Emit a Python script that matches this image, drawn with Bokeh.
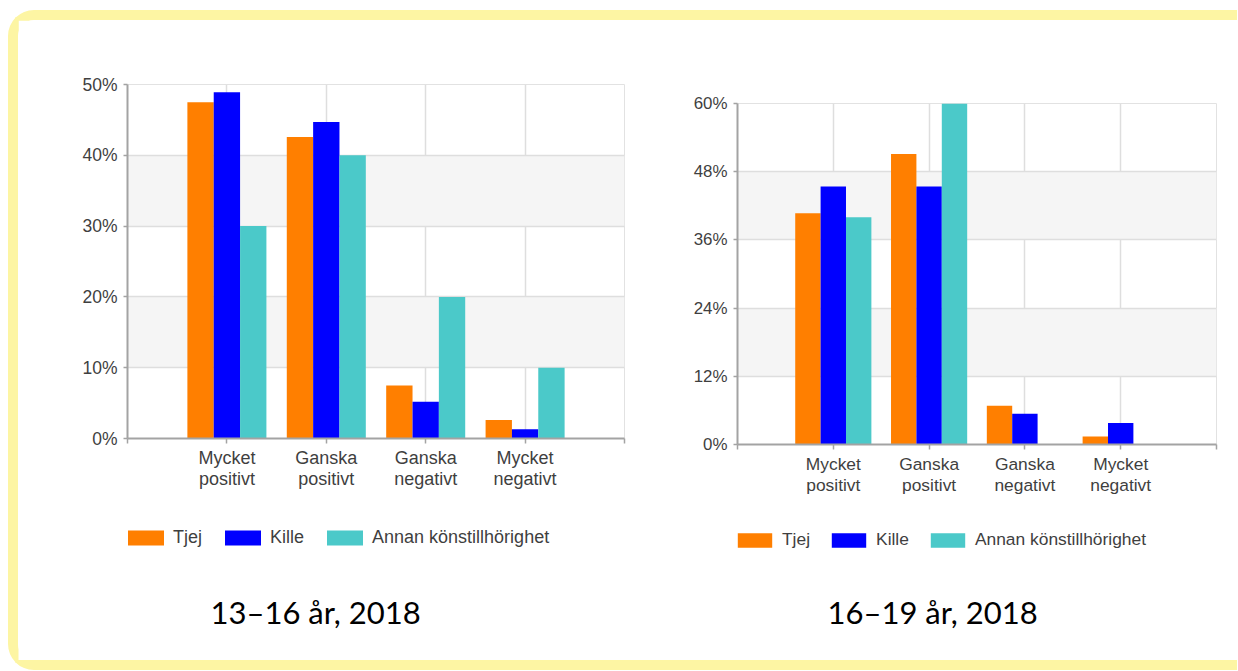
from bokeh.plotting import figure
from bokeh.models import (ColumnDataSource, FixedTicker, PrintfTickFormatter, Legend,
                          LegendItem, Label, Range1d, Row, Column)
from bokeh.embed import file_html
from bokeh.resources import INLINE

# ---------------- data ----------------
categories = ["Mycket\npositivt", "Ganska\npositivt", "Ganska\nnegativt", "Mycket\nnegativt"]
series_names = ["Tjej", "Kille", "Annan könstillhörighet"]
series_colors = ["#FF7F00", "#0000FF", "#4BC9C9"]

# 13–16 år, 2018 (percent)
tjej_13_16 = [47.5, 42.6, 7.5, 2.6]
kille_13_16 = [48.9, 44.7, 5.2, 1.3]
annan_13_16 = [30.0, 40.0, 20.0, 10.0]
yticks_13_16 = [0, 10, 20, 30, 40, 50]

# 16–19 år, 2018 (percent)
tjej_16_19 = [40.7, 51.1, 6.8, 1.4]
kille_16_19 = [45.4, 45.4, 5.4, 3.8]
annan_16_19 = [40.0, 60.0, 0.0, 0.0]
yticks_16_19 = [0, 12, 24, 36, 48, 60]

title_13_16 = "13–16 år, 2018"
title_16_19 = "16–19 år, 2018"

FONT = "Liberation Sans"
TEXT = "#3f3f3f"
BAR_W = 0.265
FOOT_H = 160


def make_chart(series_values, yticks, frame_w, frame_h, mb_left, mb_right,
               mb_top, mb_bottom, fs):
    n = len(categories)
    xs = [i + 1 for i in range(n)]
    p = figure(frame_width=frame_w, frame_height=frame_h,
               x_range=Range1d(0, n + 1), y_range=Range1d(yticks[0], yticks[-1]),
               output_backend="svg", toolbar_location=None,
               min_border_left=mb_left, min_border_right=mb_right,
               min_border_top=mb_top, min_border_bottom=mb_bottom,
               background_fill_color="white", border_fill_color="white")
    p.frame_align = False
    p.outline_line_color = "#e2e2e2"

    for j, (vals, color) in enumerate(zip(series_values, series_colors)):
        off = (j - 1) * BAR_W
        src = ColumnDataSource(dict(x=[x + off for x in xs], top=vals))
        p.vbar(x="x", top="top", bottom=0, width=BAR_W, source=src,
               fill_color=color, line_color=None)

    xticks = [0] + xs + [n + 1]
    p.xaxis.ticker = FixedTicker(ticks=xticks)
    overrides = {0: "", n + 1: ""}
    for x, lab in zip(xs, categories):
        overrides[x] = lab
    p.xaxis.major_label_overrides = overrides
    p.yaxis.ticker = FixedTicker(ticks=yticks)
    p.yaxis.formatter = PrintfTickFormatter(format="%d%%")
    for ax in (p.xaxis[0], p.yaxis[0]):
        ax.axis_line_color = "#a3a3a3"
        ax.axis_line_width = 2
        ax.major_tick_line_color = "#a3a3a3"
        ax.major_tick_line_width = 1.5
        ax.major_tick_in = 0
        ax.minor_tick_line_color = None
        ax.major_label_text_font = FONT
        ax.major_label_text_color = TEXT
    p.xaxis.major_tick_out = 5
    p.yaxis.major_tick_out = 4
    p.xaxis.major_label_text_font_size = f"{fs}px"
    p.xaxis.major_label_text_line_height = 1.05
    p.xaxis.major_label_standoff = 4
    p.yaxis.major_label_text_font_size = f"{fs - 0.5}px"
    p.yaxis.major_label_standoff = 6

    p.xgrid.ticker = FixedTicker(ticks=xticks)
    p.ygrid.ticker = FixedTicker(ticks=yticks)
    for g in (p.xgrid[0], p.ygrid[0]):
        g.grid_line_color = "#dedede"
        g.grid_line_width = 1.5
    p.ygrid.band_fill_color = "#f5f5f5"
    p.ygrid.band_fill_alpha = 1.0
    return p


def make_footer(width, title_text, fs, legend_x, legend_y, glyph_w, glyph_h,
                standoff, spacing, title_x, title_y):
    f = figure(width=width, height=FOOT_H, x_range=Range1d(0, width),
               y_range=Range1d(0, FOOT_H), x_axis_type=None, y_axis_type=None,
               output_backend="svg", toolbar_location=None, min_border=0,
               outline_line_color=None, background_fill_color="white",
               border_fill_color="white")
    f.frame_align = False
    f.xgrid.visible = False
    f.ygrid.visible = False
    items = []
    for s, c in zip(series_names, series_colors):
        # legend-only renderer: a zero-width bar, nothing visible in the footer
        r = f.vbar(x=[0], top=[0], bottom=0, width=0, fill_color=c, line_color=None)
        items.append(LegendItem(label=s, renderers=[r]))
    legend = Legend(items=items, orientation="horizontal",
                    location=(legend_x, legend_y), margin=0, padding=0,
                    border_line_color=None, background_fill_alpha=0,
                    glyph_width=glyph_w, glyph_height=glyph_h,
                    label_standoff=standoff, spacing=spacing, label_height=15,
                    label_text_font=FONT, label_text_font_size=f"{fs}px",
                    label_text_color=TEXT)
    f.add_layout(legend, "center")
    f.add_layout(Label(x=title_x, y=title_y, text=title_text, text_font="Lato",
                       text_font_size="31px", text_color="black",
                       text_baseline="middle", text_align="left"))
    return f


p1 = make_chart([tjej_13_16, kille_13_16, annan_13_16], yticks_13_16,
                frame_w=497, frame_h=354, mb_left=109, mb_right=56, mb_top=64,
                mb_bottom=62, fs=18)
p2 = make_chart([tjej_16_19, kille_16_19, annan_16_19], yticks_16_19,
                frame_w=479, frame_h=341, mb_left=57, mb_right=21, mb_top=83,
                mb_bottom=56, fs=17.4)
f1 = make_footer(662, title_13_16, 18, legend_x=105, legend_y=112, glyph_w=45,
                 glyph_h=19, standoff=5, spacing=18, title_x=192, title_y=49)
f2 = make_footer(557, title_16_19, 17.4, legend_x=53, legend_y=110, glyph_w=43,
                 glyph_h=18, standoff=6, spacing=17, title_x=147, title_y=49)

layout = Row(children=[Column(children=[p1, f1]), Column(children=[p2, f2])],
             margin=(10, 0, 0, 8),
             styles={"border-top": "10px solid #FDF5A3",
                     "border-left": "10px solid #FDF5A3",
                     "border-bottom": "10px solid #FDF5A3",
                     "border-radius": "26px 0 0 26px",
                     "background-color": "white"})

open("out.html", "w").write(file_html(layout, INLINE))
